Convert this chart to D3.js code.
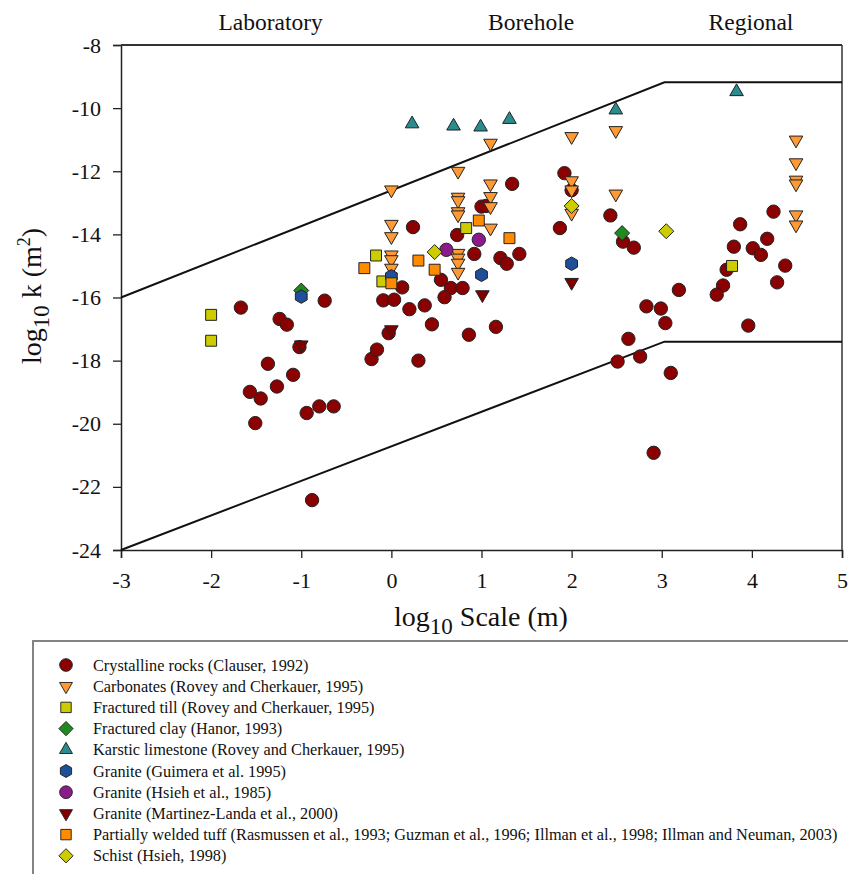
<!DOCTYPE html>
<meta charset="utf-8">
<script src="https://d3js.org/d3.v7.min.js"></script>
<style>
  body { margin: 0; background: #fff; }
  text { font-family: "Liberation Serif", "Times New Roman", serif; fill: #111; }
</style>
<div id="screen"></div>
<script>

  // ---- data (log10 scale in m, log10 k in m^2) ----
  var crystalline = [
    [-1.67,-16.32],[-1.24,-16.68],[-1.16,-16.86],[-0.74,-16.1],[-1.02,-17.57],
    [-1.37,-18.1],[-1.09,-18.45],[-1.57,-18.99],[-1.45,-19.2],[-1.27,-18.82],
    [-1.51,-19.98],[-0.94,-19.66],[-0.8,-19.45],[-0.64,-19.45],[-0.88,-22.42],
    [-0.22,-17.95],[-0.16,-17.65],[0.3,-18.0],[-0.03,-17.13],[0.45,-16.85],
    [0.86,-17.18],[1.16,-16.93],[-0.09,-16.09],[0.03,-16.07],[0.2,-16.37],
    [0.37,-16.25],[0.12,-15.68],[0.55,-15.44],[0.66,-15.7],[0.79,-15.7],
    [0.59,-15.99],[0.24,-13.77],[0.73,-14.02],[0.92,-14.62],[1.21,-14.75],
    [1.28,-14.93],[1.42,-14.62],[1.0,-13.12],[1.05,-13.1],[1.34,-12.4],
    [1.87,-13.8],[1.92,-12.06],[2.0,-12.6],[2.43,-13.4],[2.57,-14.23],
    [2.69,-14.42],[3.19,-15.76],[2.83,-16.28],[2.99,-16.35],[3.04,-16.81],
    [2.63,-17.31],[2.51,-18.03],[2.76,-17.87],[3.1,-18.39],[2.91,-20.92],
    [4.24,-13.28],[3.87,-13.68],[4.17,-14.14],[3.8,-14.39],[4.01,-14.44],
    [4.1,-14.65],[4.37,-14.99],[3.72,-15.12],[4.28,-15.52],[3.68,-15.62],
    [3.61,-15.91],[3.96,-16.89]
  ];
  var carbonates = [
    [0,-12.59],[0,-13.68],[0,-14.07],[0,-14.65],[0,-14.8],[0,-15.07],
    [0.74,-12.0],[0.74,-12.82],[0.74,-12.93],[0.74,-13.28],[0.74,-13.38],
    [0.74,-14.6],[0.74,-14.75],[0.74,-14.91],[0.74,-15.2],
    [1.1,-11.11],[1.1,-12.4],[1.1,-12.8],[1.1,-13.12],[1.1,-13.8],
    [2.0,-10.9],[2.0,-12.3],[2.0,-12.59],[2.0,-13.33],
    [2.49,-10.71],[2.49,-12.72],
    [4.49,-11.01],[4.49,-11.73],[4.49,-12.28],[4.49,-12.4],[4.49,-13.38],[4.49,-13.7]
  ];
  var fracturedTill = [[-2,-16.55],[-2,-17.37],[-0.17,-14.67],[-0.1,-15.49],[0.83,-13.8],[3.78,-15.0]];
  var fracturedClay = [[-1.0,-15.78],[2.56,-13.96]];
  var karstic = [[0.23,-10.5],[0.69,-10.57],[0.99,-10.6],[1.31,-10.36],[2.49,-10.06],[3.83,-9.48]];
  var graniteGuimera = [[-1.0,-15.97],[0,-15.33],[1.0,-15.28],[2.0,-14.93]];
  var graniteHsieh = [[0.61,-14.49],[0.97,-14.17]];
  var graniteMartinez = [[-1.0,-17.5],[0,-17.02],[1.01,-15.91],[2.0,-15.52]];
  var weldedTuff = [[-0.3,-15.07],[0,-15.55],[0.3,-14.83],[0.48,-15.12],[0.97,-13.56],[1.31,-14.12]];
  var schist = [[0.48,-14.56],[2.0,-13.1],[3.05,-13.9]];

  var upperBound = [[-3,-16],[3.03,-9.18],[5,-9.18]];
  var lowerBound = [[-3,-24],[3.03,-17.4],[5,-17.4]];

  var xTicks = [-3,-2,-1,0,1,2,3,4,5];
  var yTicks = [-24,-22,-20,-18,-16,-14,-12,-10,-8];
  var regions = [["Laboratory",-1.34],["Borehole",1.55],["Regional",3.99]];

  var series = [
    {label:"Crystalline rocks (Clauser, 1992)", shape:"circle", color:"#8b0000", data:crystalline},
    {label:"Carbonates (Rovey and Cherkauer, 1995)", shape:"down", color:"#ff9933", data:carbonates},
    {label:"Fractured till (Rovey and Cherkauer, 1995)", shape:"square", color:"#cccc00", data:fracturedTill},
    {label:"Fractured clay (Hanor, 1993)", shape:"diamond", color:"#1f8a1f", data:fracturedClay},
    {label:"Karstic limestone (Rovey and Cherkauer, 1995)", shape:"up", color:"#2a8c8c", data:karstic},
    {label:"Granite (Guimera et al. 1995)", shape:"hex", color:"#1f4f99", data:graniteGuimera},
    {label:"Granite (Hsieh et al., 1985)", shape:"circle", color:"#8b1a8b", data:graniteHsieh},
    {label:"Granite (Martinez-Landa et al., 2000)", shape:"down", color:"#800000", data:graniteMartinez},
    {label:"Partially welded tuff (Rasmussen et al., 1993; Guzman et al., 1996; Illman et al., 1998; Illman and Neuman, 2003)", shape:"square", color:"#ff8c00", data:weldedTuff},
    {label:"Schist (Hsieh, 1998)", shape:"diamond", color:"#cccc00", data:schist}
  ];

  var W = 848, H = 874;
  var plot = {left: 121, right: 842, top: 45, bottom: 550};

  var svg = d3.select("#screen").append("svg")
      .attr("width", W).attr("height", H);

  var x = d3.scaleLinear().domain([-3,5]).range([plot.left, plot.right]);
  var y = d3.scaleLinear().domain([-24,-8]).range([plot.bottom, plot.top]);

  function markerPath(shape) {
    if (shape == "circle") return d3.symbol(d3.symbolCircle, 140)();
    if (shape == "square") return d3.symbol(d3.symbolSquare, 120)();
    if (shape == "up" || shape == "down") return d3.symbol(d3.symbolTriangle, 80)();
    if (shape == "diamond") return "M0,-7.5L7.5,0L0,7.5L-7.5,0Z";
    if (shape == "hex") {
      let pts = d3.range(6).map(function(i) {
        let a = Math.PI/2 + i*Math.PI/3;
        return [6.8*Math.cos(a), 6.8*Math.sin(a)];
      });
      return "M" + pts.join("L") + "Z";
    }
  }
  function markerRot(shape) { return shape == "down" ? " rotate(180)" : ""; }

  // axes
  var xAxis = svg.append("g")
      .attr("transform", "translate(0," + plot.bottom + ")")
      .call(d3.axisBottom(x).tickValues(xTicks).tickSize(8).tickFormat(d3.format("d")));
  var yAxis = svg.append("g")
      .attr("transform", "translate(" + plot.left + ",0)")
      .call(d3.axisLeft(y).tickValues(yTicks).tickSize(8).tickFormat(d3.format("d")));
  [xAxis, yAxis].forEach(function(a) {
    a.select(".domain").attr("stroke", "#222").attr("stroke-width", 1.5);
    a.selectAll(".tick line").attr("stroke", "#222").attr("stroke-width", 1.3);
    a.selectAll(".tick text").style("font-family", "Liberation Serif").style("font-size", "22px").attr("fill", "#111");
  });
  xAxis.selectAll(".tick text").attr("y", 22).attr("dy", "0.71em");
  yAxis.selectAll(".tick text").attr("x", -20);
  xAxis.selectAll(".tick text").text(function(d) { return d < 0 ? "-" + (-d) : d; });
  yAxis.selectAll(".tick text").text(function(d) { return "-" + (-d); });

  // frame top / right
  svg.append("line").attr("x1", plot.left).attr("x2", plot.right).attr("y1", plot.top).attr("y2", plot.top)
      .attr("stroke", "#333").attr("stroke-width", 1.8);
  svg.append("line").attr("x1", plot.right).attr("x2", plot.right).attr("y1", plot.top).attr("y2", plot.bottom)
      .attr("stroke", "#333").attr("stroke-width", 1.5);

  // region labels
  svg.selectAll(".region").data(regions).enter().append("text")
      .attr("x", function(d) { return x(d[1]); }).attr("y", 30)
      .attr("text-anchor", "middle").style("font-size", "23.5px")
      .text(function(d) { return d[0]; });

  // boundary lines
  var line = d3.line().x(function(d) { return x(d[0]); }).y(function(d) { return y(d[1]); });
  [upperBound, lowerBound].forEach(function(b) {
    svg.append("path").attr("d", line(b)).attr("fill", "none")
        .attr("stroke", "#111").attr("stroke-width", 2);
  });

  // points
  series.forEach(function(s) {
    svg.append("g").selectAll("path").data(s.data).enter().append("path")
        .attr("d", markerPath(s.shape))
        .attr("transform", function(d) { return "translate(" + x(d[0]) + "," + y(d[1]) + ")" + markerRot(s.shape); })
        .attr("fill", s.color).attr("stroke", "#222").attr("stroke-width", 1);
  });

  // axis titles
  var xt = svg.append("text").attr("x", 481).attr("y", 626).attr("text-anchor", "middle").style("font-size", "28px");
  xt.append("tspan").text("log");
  xt.append("tspan").attr("dy", 8).style("font-size", "23px").text("10");
  xt.append("tspan").attr("dy", -8).text(" Scale (m)");

  var yt = svg.append("text").attr("transform", "translate(41,296) rotate(-90)")
      .attr("text-anchor", "middle").style("font-size", "28px");
  yt.append("tspan").text("log");
  yt.append("tspan").attr("dy", 8).style("font-size", "23px").text("10");
  yt.append("tspan").attr("dy", -8).text(" k (m");
  yt.append("tspan").attr("dy", -11).style("font-size", "18px").text("2");
  yt.append("tspan").attr("dy", 11).text(")");

  // legend
  svg.append("rect").attr("x", 33).attr("y", 641).attr("width", 830).attr("height", 250)
      .attr("fill", "none").attr("stroke", "#777").attr("stroke-width", 1.8);
  var leg = svg.selectAll(".leg").data(series).enter().append("g")
      .attr("transform", function(d, i) { return "translate(66," + (665 + i*21.2) + ")"; });
  leg.append("path")
      .attr("d", function(d) { return markerPath(d.shape); })
      .attr("transform", function(d) { return "scale(0.95)" + markerRot(d.shape); })
      .attr("fill", function(d) { return d.color; }).attr("stroke", "#222").attr("stroke-width", 1);
  leg.append("text").attr("x", 27).attr("y", 5.5).style("font-size", "16.3px")
      .text(function(d) { return d.label; });

</script>
